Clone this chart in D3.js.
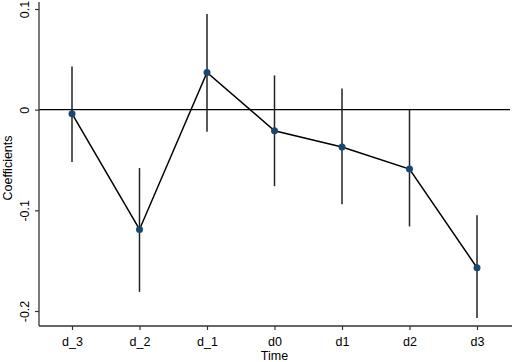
<!DOCTYPE html>
<html><head><meta charset="utf-8">
<script src="https://cdn.jsdelivr.net/npm/d3@7"></script>
<style>body{margin:0;background:#fff}svg{display:block}</style>
</head><body>
<svg id="c" width="512" height="362"></svg>
<script>
const categories = ["d_3","d_2","d_1","d0","d1","d2","d3"];
const coef  = [-0.004, -0.119, 0.037, -0.021, -0.037, -0.059, -0.157];
const lower = [-0.052, -0.181, -0.022, -0.076, -0.094, -0.116, -0.207];
const upper = [ 0.043, -0.058,  0.095,  0.034,  0.021,  0.000, -0.105];
const yTicks = [0.1, 0, -0.1, -0.2];
const yTickLabels = ["0.1","0","-0.1","-0.2"];

(function(){
const svg = d3.select("#c");
const font = "'Liberation Sans', Arial, sans-serif";
const fs = "12.5px";
const x = d3.scalePoint().domain(categories).range([72, 477]);
const y = d3.scaleLinear().domain([-0.2, 0.1]).range([311, 9]);
const pTop = 2, pBottom = 326, pLeft = 39, pRight = 512;
const axisColor = "#333";

// zero line
svg.append("line").attr("x1", pLeft).attr("x2", 510)
  .attr("y1", y(0)).attr("y2", y(0)).attr("stroke", "#000").attr("stroke-width", 1.3);

// y axis
const yAxis = d3.axisLeft(y).tickValues(yTicks).tickSize(4)
  .tickFormat((d,i) => yTickLabels[i]);
const gy = svg.append("g").attr("transform", `translate(${pLeft},0)`).call(yAxis);
gy.select(".domain").remove();
gy.append("line").attr("x1",0).attr("x2",0).attr("y1",pTop).attr("y2",pBottom)
  .attr("stroke", axisColor).attr("stroke-width", 1.3);
gy.selectAll(".tick line").attr("stroke", axisColor).attr("stroke-width", 1.2);
gy.selectAll(".tick text")
  .attr("transform", "rotate(-90)")
  .attr("x", 0).attr("y", -10).attr("dy", 0)
  .attr("text-anchor", "middle")
  .style("font-family", font).style("font-size", fs).attr("fill", "#000");

// x axis
const xAxis = d3.axisBottom(x).tickSize(4);
const gx = svg.append("g").attr("transform", `translate(0,${pBottom})`).call(xAxis);
gx.select(".domain").remove();
gx.append("line").attr("x1",pLeft).attr("x2",pRight).attr("y1",0).attr("y2",0)
  .attr("stroke", axisColor).attr("stroke-width", 1.3);
gx.selectAll(".tick line").attr("stroke", axisColor).attr("stroke-width", 1.2);
gx.selectAll(".tick text").attr("y", 20).attr("dy", 0)
  .style("font-family", font).style("font-size", fs).attr("fill", "#000");

// axis titles
svg.append("text").attr("x", x("d0")).attr("y", 359.5).attr("text-anchor","middle")
  .style("font-family", font).style("font-size", fs).text("Time");
svg.append("text").attr("transform", `translate(12,${(pTop+pBottom)/2 + 4}) rotate(-90)`)
  .attr("text-anchor","middle")
  .style("font-family", font).style("font-size", fs).text("Coefficients");

// CI lines
svg.append("g").selectAll("line").data(categories).join("line")
  .attr("x1", d => x(d)).attr("x2", d => x(d))
  .attr("y1", (d,i) => y(upper[i])).attr("y2", (d,i) => y(lower[i]))
  .attr("stroke", "#222").attr("stroke-width", 1.5);

// connecting line
const line = d3.line().x((d,i) => x(categories[i])).y(d => y(d));
svg.append("path").datum(coef).attr("d", line)
  .attr("fill","none").attr("stroke","#000").attr("stroke-width",1.5);

// points
svg.append("g").selectAll("circle").data(coef).join("circle")
  .attr("cx", (d,i) => x(categories[i])).attr("cy", d => y(d)).attr("r", 3.5)
  .attr("fill", "#1a476f");
})();
</script>
</body></html>
